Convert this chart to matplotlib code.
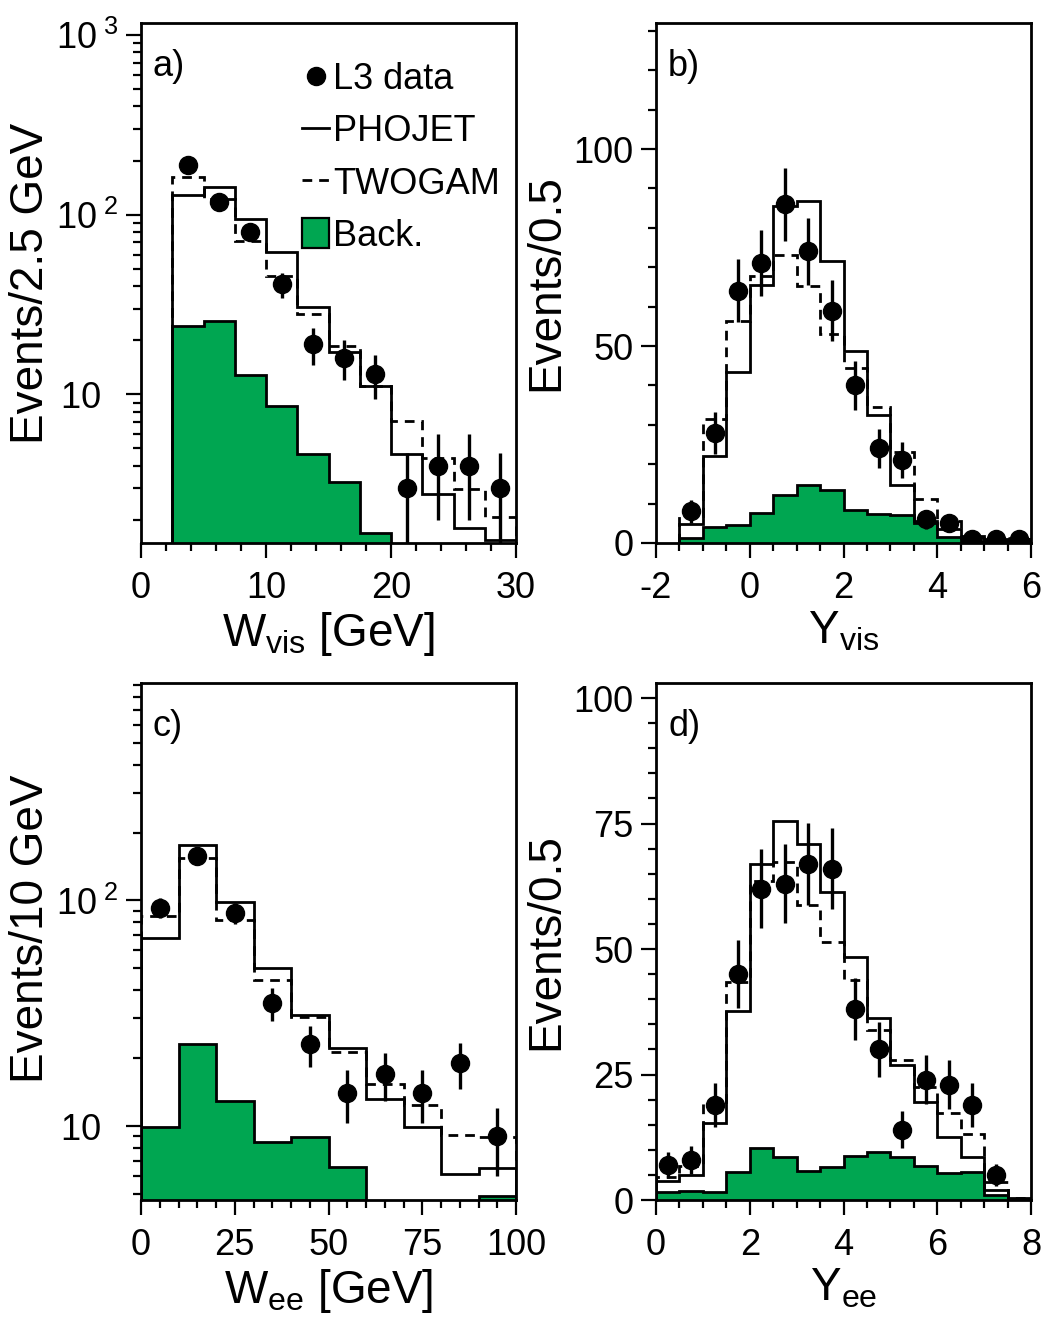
import numpy as np
import matplotlib
matplotlib.use('Agg')
import matplotlib.pyplot as plt
from matplotlib.lines import Line2D
from matplotlib.patches import Patch
from matplotlib.ticker import MultipleLocator, LogLocator, FuncFormatter, NullFormatter, FixedLocator

plt.rcParams['font.family'] = ['Liberation Sans', 'DejaVu Sans']
plt.rcParams['mathtext.fontset'] = 'custom'
plt.rcParams['mathtext.rm'] = 'Liberation Sans'
plt.rcParams['mathtext.it'] = 'Liberation Sans'
plt.rcParams['mathtext.bf'] = 'Liberation Sans:bold'
plt.rcParams['axes.unicode_minus'] = False

GREEN = '#00a651'

# ---------------- Panel a: W_vis ----------------
a_edges = [2.5, 5, 7.5, 10, 12.5, 15, 17.5, 20, 22.5, 25, 27.5, 30]
a_centers = [3.75, 6.25, 8.75, 11.25, 13.75, 16.25, 18.75, 21.25, 23.75, 26.25, 28.75]
a_data = [190, 118, 80, 41, 19, 16, 13, 3, 4, 4, 3]
a_err = [13.8, 10.9, 8.9, 6.4, 4.4, 4.0, 3.6, 1.7, 2.0, 2.0, 1.7]
a_phojet = [128, 142, 94.5, 61.9, 30.8, 17.3, 11.1, 4.67, 2.80, 1.81, 1.55]
a_twogam = [163, 121.7, 71.4, 45.6, 27.9, 18.5, 11.2, 7.15, 4.42, 2.97, 2.08]
a_back = [24.0, 25.6, 12.8, 8.6, 4.67, 3.26, 1.69, 0, 0, 0, 0]

# ---------------- Panel b: Y_vis ----------------
b_edges = [-1.5, -1, -0.5, 0, 0.5, 1, 1.5, 2, 2.5, 3, 3.5, 4, 4.5, 5, 5.5, 6]
b_centers = [-1.25, -0.75, -0.25, 0.25, 0.75, 1.25, 1.75, 2.25, 2.75, 3.25, 3.75, 4.25, 4.75, 5.25, 5.75]
b_data = [8, 28, 64, 71, 86, 74, 59, 40, 24, 21, 6, 5, 1, 1, 1]
b_err = [2.8, 5.3, 8.0, 8.4, 9.3, 8.6, 7.7, 6.3, 4.9, 4.6, 2.4, 2.2, 1.0, 1.0, 1.0]
b_phojet = [4.75, 22.0, 43.4, 65.4, 85.6, 86.9, 71.7, 48.8, 32.4, 14.7, 5.6, 3.5, 1.3, 0.9, 0.9]
b_twogam = [6.9, 31.5, 56.4, 67.7, 73.0, 65.3, 53.0, 44.3, 34.4, 23.1, 11.2, 5.6, 1.7, 1.3, 0.9]
b_back = [1.3, 4.1, 4.5, 7.5, 12.3, 14.7, 13.4, 8.5, 7.3, 7.2, 5.2, 1.5, 0.6, 0.6, 0.6]

# ---------------- Panel c: W_ee ----------------
c_edges = [0, 10, 20, 30, 40, 50, 60, 70, 80, 90, 100]
c_centers = [5, 15, 25, 35, 45, 55, 65, 75, 85, 95]
c_data = [93, 157, 88, 35, 23, 14, 17, 14, 19, 9]
c_err = [9.6, 12.5, 9.4, 5.9, 4.8, 3.7, 4.1, 3.7, 4.4, 3.0]
c_phojet = [68, 176.6, 98.3, 50.2, 31.0, 22.1, 13.2, 9.86, 6.12, 6.52]
c_twogam = [85, 153.8, 81.9, 44.5, 30.5, 21.2, 15.3, 12.4, 9.12, 8.96]
c_back = [9.93, 23.0, 12.9, 8.51, 8.9, 6.56, 0, 0, 0, 4.9]

# ---------------- Panel d: Y_ee ----------------
d_edges = [0, 0.5, 1, 1.5, 2, 2.5, 3, 3.5, 4, 4.5, 5, 5.5, 6, 6.5, 7, 7.5, 8]
d_centers = [0.25, 0.75, 1.25, 1.75, 2.25, 2.75, 3.25, 3.75, 4.25, 4.75, 5.25, 5.75, 6.25, 6.75, 7.25]
d_data = [7, 8, 19, 45, 62, 63, 67, 66, 38, 30, 14, 24, 23, 19, 5]
d_err = [2.6, 2.8, 4.4, 6.7, 7.9, 7.9, 8.2, 8.1, 6.2, 5.5, 3.7, 4.9, 4.8, 4.4, 2.2]
d_phojet = [3.7, 5.0, 15.3, 37.6, 67.0, 75.6, 70.9, 61.4, 48.5, 36.3, 26.9, 19.5, 12.6, 8.5, 1.9, 0.3]
d_twogam = [4.6, 6.7, 19.5, 43.5, 63.6, 67.4, 58.8, 51.4, 43.9, 33.9, 27.8, 22.5, 17.3, 13.2, 3.5, 0.3]
d_back = [1.5, 1.7, 1.6, 5.6, 10.4, 8.5, 5.7, 6.5, 8.7, 9.5, 8.6, 6.7, 5.4, 5.6, 1.0, 0.0]

W, H = 1045, 1323
fig = plt.figure(figsize=(W / 100, H / 100), dpi=100)


def add_ax(l, r, t, b):
    return fig.add_axes([l / W, 1 - b / H, (r - l) / W, (b - t) / H])


axA = add_ax(141, 516, 23, 543)
axB = add_ax(656, 1031, 23, 543)
axC = add_ax(141, 516, 683, 1200)
axD = add_ax(656, 1031, 683, 1200)

FS_TICK = 26
FS_LAB = 33
LW = 2.0


def style(ax):
    for s in ax.spines.values():
        s.set_linewidth(2.0)
    ax.tick_params(which='both', direction='out', top=False, right=False,
                   labelsize=FS_TICK, width=1.6)
    ax.tick_params(which='major', length=11, pad=5)
    ax.tick_params(which='minor', length=5.5)
    ax.tick_params(axis='x', which='major', pad=9)


def draw(ax, edges, centers, data, err, phojet, twogam, back, base):
    back_v = np.clip(np.asarray(back, float), base, None)
    ax.stairs(back_v, edges, baseline=base, fill=True, facecolor=GREEN,
              edgecolor='none', zorder=1)
    ax.stairs(back_v, edges, baseline=base, fill=False, color='black',
              lw=LW, zorder=2)
    ax.stairs(twogam, edges, baseline=base, color='black', lw=LW,
              linestyle=(0, (3.5, 2.5)), zorder=3)
    ax.stairs(phojet, edges, baseline=base, color='black', lw=LW, zorder=4)
    ax.errorbar(centers, data, yerr=err, fmt='o', color='black', ms=13,
                elinewidth=2.4, capsize=0, zorder=5)


def log_fmt(v, pos):
    e = int(round(np.log10(v)))
    if e == 1:
        return '10\u2002'
    return r'$\mathregular{10^{\ %d}}$' % e


# panel a
draw(axA, a_edges, a_centers, a_data, a_err, a_phojet, a_twogam, a_back, 1e-2)
axA.set_yscale('log')
axA.set_xlim(0, 30)
axA.set_ylim(1.49, 1165)
axA.xaxis.set_major_locator(FixedLocator([0, 10, 20, 30]))
axA.xaxis.set_minor_locator(MultipleLocator(2))
axA.yaxis.set_major_locator(FixedLocator([10, 100, 1000]))
axA.yaxis.set_major_formatter(FuncFormatter(log_fmt))
axA.yaxis.set_minor_locator(LogLocator(base=10, subs=np.arange(2, 10)))
axA.yaxis.set_minor_formatter(NullFormatter())
style(axA)
axA.set_xlabel(r'W$_{\mathregular{vis}}$ [GeV]', fontsize=FS_LAB, labelpad=3)
axA.set_ylabel('Events/2.5 GeV', fontsize=FS_LAB)
axA.yaxis.set_label_coords(-0.235, 0.5)
axA.text(0.032, 0.95, 'a)', transform=axA.transAxes, fontsize=FS_TICK, va='top')
handles = [Line2D([], [], marker='o', color='black', ls='none', ms=13),
           Line2D([], [], color='black', lw=LW),
           Line2D([], [], color='black', lw=LW, linestyle=(0, (3.5, 2.5))),
           Patch(facecolor=GREEN, edgecolor='black', lw=1.6)]
axA.legend(handles, ['L3 data', 'PHOJET', 'TWOGAM', 'Back.'], loc='upper left',
           bbox_to_anchor=(0.43, 0.925), frameon=False, fontsize=FS_TICK,
           handlelength=0.75, handletextpad=0.1, labelspacing=0.46,
           borderpad=0, borderaxespad=0, handleheight=0.9)

# panel b
draw(axB, b_edges, b_centers, b_data, b_err, b_phojet, b_twogam, b_back, 0)
axB.set_xlim(-2, 6)
axB.set_ylim(0, 132)
axB.xaxis.set_major_locator(MultipleLocator(2))
axB.xaxis.set_minor_locator(MultipleLocator(0.5))
axB.yaxis.set_major_locator(MultipleLocator(50))
axB.yaxis.set_minor_locator(MultipleLocator(10))
style(axB)
axB.set_xlabel(r'Y$_{\mathregular{vis}}$', fontsize=FS_LAB, labelpad=3)
axB.set_ylabel('Events/0.5', fontsize=FS_LAB)
axB.yaxis.set_label_coords(-0.235, 0.5)
axB.text(0.032, 0.95, 'b)', transform=axB.transAxes, fontsize=FS_TICK, va='top')

# panel c
draw(axC, c_edges, c_centers, c_data, c_err, c_phojet, c_twogam, c_back, 1e-2)
axC.set_yscale('log')
axC.set_xlim(0, 100)
axC.set_ylim(4.7, 920)
axC.xaxis.set_major_locator(MultipleLocator(25))
axC.xaxis.set_minor_locator(MultipleLocator(5))
axC.yaxis.set_major_locator(FixedLocator([10, 100]))
axC.yaxis.set_major_formatter(FuncFormatter(log_fmt))
axC.yaxis.set_minor_locator(LogLocator(base=10, subs=np.arange(2, 10)))
axC.yaxis.set_minor_formatter(NullFormatter())
style(axC)
axC.set_xlabel(r'W$_{\mathregular{ee}}$ [GeV]', fontsize=FS_LAB, labelpad=3)
axC.set_ylabel('Events/10 GeV', fontsize=FS_LAB)
axC.yaxis.set_label_coords(-0.235, 0.525)
axC.text(0.032, 0.95, 'c)', transform=axC.transAxes, fontsize=FS_TICK, va='top')

# panel d
draw(axD, d_edges, d_centers, d_data, d_err, d_phojet, d_twogam, d_back, 0)
axD.set_xlim(0, 8)
axD.set_ylim(0, 103)
axD.xaxis.set_major_locator(MultipleLocator(2))
axD.xaxis.set_minor_locator(MultipleLocator(0.5))
axD.yaxis.set_major_locator(MultipleLocator(25))
axD.yaxis.set_minor_locator(MultipleLocator(5))
style(axD)
axD.set_xlabel(r'Y$_{\mathregular{ee}}$', fontsize=FS_LAB, labelpad=3)
axD.set_ylabel('Events/0.5', fontsize=FS_LAB)
axD.yaxis.set_label_coords(-0.235, 0.5)
axD.text(0.032, 0.95, 'd)', transform=axD.transAxes, fontsize=FS_TICK, va='top')

fig.savefig('out.png', dpi=100)
